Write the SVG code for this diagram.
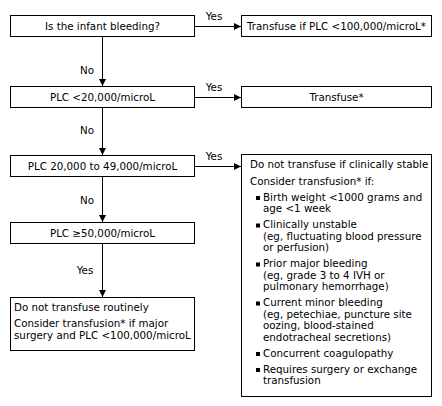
<svg xmlns="http://www.w3.org/2000/svg" width="442" height="406" viewBox="0 0 442 406">
<defs>
<marker id="ah" markerWidth="8" markerHeight="8" refX="7" refY="4" orient="auto" markerUnits="userSpaceOnUse">
<path d="M0,0.5 L7,4 L0,7.5 Z" fill="#000"/>
</marker>
<style>
rect{fill:#fff;stroke:#000;stroke-width:1}
text{font-family:"DejaVu Sans",Verdana,sans-serif;font-size:10.3px;fill:#000}
.c{text-anchor:middle}
line{stroke:#000;stroke-width:1}
.b{fill:#000;stroke:none}
</style>
</defs>
<rect width="442" height="406" fill="#fff" style="stroke:none"/>
<g id="connectors">
<line x1="194.5" y1="26.5" x2="241" y2="26.5" marker-end="url(#ah)"/>
<line x1="194.5" y1="97.5" x2="241" y2="97.5" marker-end="url(#ah)"/>
<line x1="194.5" y1="166.5" x2="241" y2="166.5" marker-end="url(#ah)"/>
<line x1="102.5" y1="37" x2="102.5" y2="86" marker-end="url(#ah)"/>
<line x1="102.5" y1="108" x2="102.5" y2="155" marker-end="url(#ah)"/>
<line x1="102.5" y1="177" x2="102.5" y2="222" marker-end="url(#ah)"/>
<line x1="102.5" y1="244" x2="102.5" y2="297" marker-end="url(#ah)"/>
<text class="c" x="214" y="20">Yes</text>
<text class="c" x="214" y="91">Yes</text>
<text class="c" x="214" y="160">Yes</text>
<text class="c" x="87" y="74">No</text>
<text class="c" x="87" y="134">No</text>
<text class="c" x="87" y="204">No</text>
<text class="c" x="85" y="274">Yes</text>
</g>
<g id="n1">
<rect x="10.5" y="15.5" width="184" height="21"/>
<text class="c" x="102.5" y="29.5">Is the infant bleeding?</text>
</g>
<g id="n2">
<rect x="241.5" y="15.5" width="190" height="21"/>
<text class="c" x="336.5" y="29.5">Transfuse if PLC &lt;100,000/microL*</text>
</g>
<g id="n3">
<rect x="10.5" y="86.5" width="184" height="21"/>
<text class="c" x="102.5" y="100.5">PLC &lt;20,000/microL</text>
</g>
<g id="n4">
<rect x="241.5" y="86.5" width="190" height="21"/>
<text class="c" x="336.5" y="100.5">Transfuse*</text>
</g>
<g id="n5">
<rect x="10.5" y="155.5" width="184" height="21"/>
<text class="c" x="102.5" y="169.5">PLC 20,000 to 49,000/microL</text>
</g>
<g id="n6">
<rect x="241.5" y="154.5" width="190" height="242"/>
<text x="250" y="168">Do not transfuse if clinically stable</text>
<text x="250" y="185">Consider transfusion* if:</text>
<rect class="b" x="256" y="196" width="4" height="4"/>
<text x="263" y="200.5">Birth weight &lt;1000 grams and</text>
<text x="263" y="212">age &lt;1 week</text>
<rect class="b" x="256" y="223.5" width="4" height="4"/>
<text x="263" y="228">Clinically unstable</text>
<text x="263" y="239.5">(eg, fluctuating blood pressure</text>
<text x="263" y="251">or perfusion)</text>
<rect class="b" x="256" y="262.5" width="4" height="4"/>
<text x="263" y="267">Prior major bleeding</text>
<text x="263" y="278.5">(eg, grade 3 to 4 IVH or</text>
<text x="263" y="290">pulmonary hemorrhage)</text>
<rect class="b" x="256" y="301.5" width="4" height="4"/>
<text x="263" y="306">Current minor bleeding</text>
<text x="263" y="317.5">(eg, petechiae, puncture site</text>
<text x="263" y="329">oozing, blood-stained</text>
<text x="263" y="340.5">endotracheal secretions)</text>
<rect class="b" x="256" y="352" width="4" height="4"/>
<text x="263" y="356.5">Concurrent coagulopathy</text>
<rect class="b" x="256" y="368" width="4" height="4"/>
<text x="263" y="372.5">Requires surgery or exchange</text>
<text x="263" y="384">transfusion</text>
</g>
<g id="n7">
<rect x="10.5" y="222.5" width="184" height="21"/>
<text class="c" x="102.5" y="236.5">PLC ≥50,000/microL</text>
</g>
<g id="n8">
<rect x="10.5" y="297.5" width="184" height="53"/>
<text x="14" y="311">Do not transfuse routinely</text>
<text x="14" y="327">Consider transfusion* if major</text>
<text x="14" y="338.5">surgery and PLC &lt;100,000/microL</text>
</g>
</svg>
